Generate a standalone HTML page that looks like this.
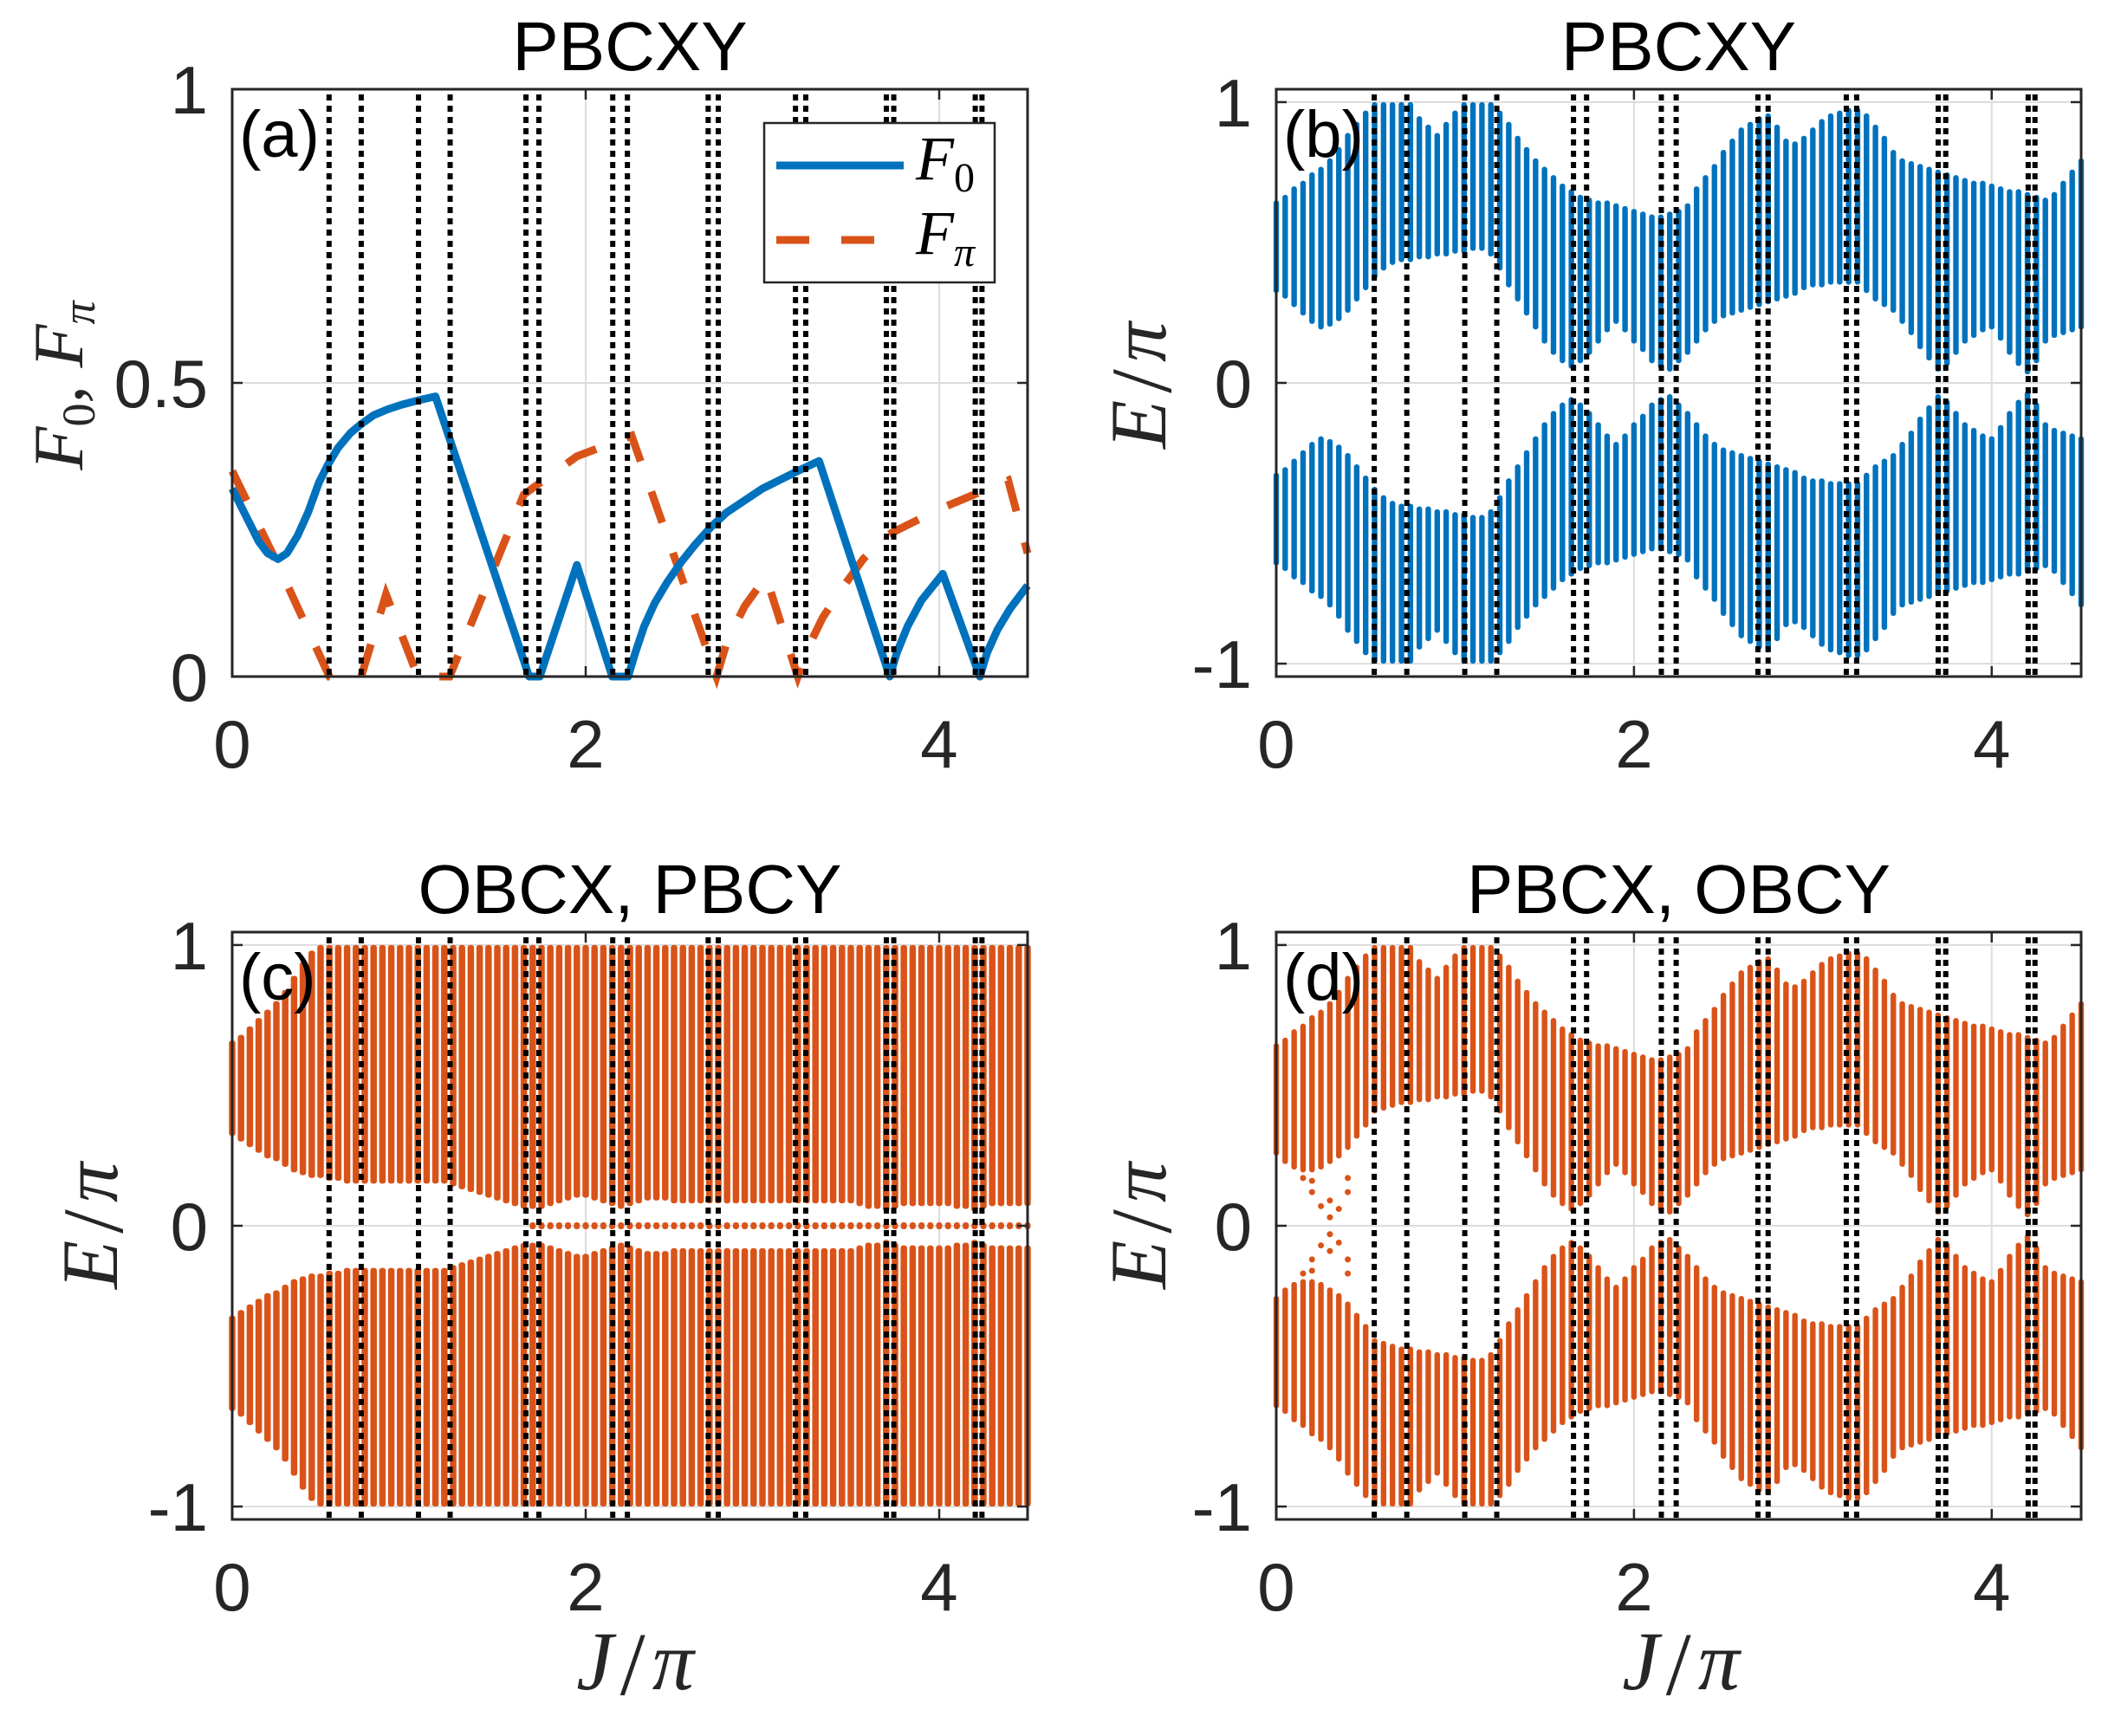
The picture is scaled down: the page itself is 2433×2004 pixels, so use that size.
<!DOCTYPE html>
<html><head><meta charset="utf-8"><style>
html,body{margin:0;padding:0;background:#fff}
svg{display:block}
</style></head><body>
<svg id="fig" xmlns="http://www.w3.org/2000/svg" width="2433" height="2004" viewBox="0 0 2433 2004">
<rect x="0" y="0" width="2433" height="2004" fill="#fff"/>
<g id="layer"></g>
</svg>
<script>
// ---------- data ----------
const xTicks = [0, 2, 4];
const xTickLabels = ["0", "2", "4"];
const yTicksA = [0, 0.5, 1];
const yTickLabelsA = ["0", "0.5", "1"];
const yTicksE = [-1, 0, 1];
const yTickLabelsE = ["-1", "0", "1"];
const transitionJ = [0.548, 0.73, 1.054, 1.233, 1.662, 1.735, 2.153, 2.236, 2.693, 2.75, 3.187, 3.245, 3.701, 3.743, 4.204, 4.242];
const f0J = [0,0.05,0.1,0.15,0.2,0.26,0.31,0.37,0.43,0.49,0.54,0.6,0.67,0.73,0.8,0.88,0.96,1.05,1.15,1.68,1.74,1.95,2.15,2.24,2.28,2.33,2.39,2.46,2.54,2.62,2.71,2.8,2.9,3.0,3.1,3.2,3.32,3.72,3.76,3.82,3.9,4.02,4.23,4.27,4.33,4.4,4.5];
const f0V = [0.32,0.29,0.26,0.23,0.21,0.20,0.21,0.24,0.28,0.33,0.36,0.39,0.415,0.43,0.445,0.455,0.463,0.47,0.477,0,0,0.19,0,0,0.04,0.085,0.125,0.16,0.195,0.225,0.255,0.28,0.30,0.32,0.335,0.35,0.367,0,0.04,0.085,0.13,0.175,0,0.04,0.08,0.115,0.155];
const fpJ = [0,0.26,0.55,0.73,0.87,1.05,1.23,1.65,1.95,2.26,2.74,2.8,2.9,3.02,3.2,3.26,3.34,3.45,3.57,3.7,4.0,4.39,4.5];
const fpV = [0.35,0.19,0,0,0.14,0,0,0.31,0.375,0.41,0,0.06,0.12,0.17,0,0.05,0.1,0.15,0.2,0.24,0.285,0.334,0.21];
const colJ = [0,0.05,0.1,0.15,0.2,0.25,0.3,0.35,0.4,0.45,0.5,0.55,0.6,0.65,0.7,0.75,0.8,0.85,0.9,0.95,1.0,1.05,1.1,1.15,1.2,1.25,1.3,1.35,1.4,1.45,1.5,1.55,1.6,1.65,1.7,1.75,1.8,1.85,1.9,1.95,2.0,2.05,2.1,2.15,2.2,2.25,2.3,2.35,2.4,2.45,2.5,2.55,2.6,2.65,2.7,2.75,2.8,2.85,2.9,2.95,3.0,3.05,3.1,3.15,3.2,3.25,3.3,3.35,3.4,3.45,3.5,3.55,3.6,3.65,3.7,3.75,3.8,3.85,3.9,3.95,4.0,4.05,4.1,4.15,4.2,4.25,4.3,4.35,4.4,4.45,4.5];
const hiB = [.65,.67,.70,.72,.75,.77,.80,.84,.89,.93, .97,1,1,1,1,1,.95,.92,.89,.93, .97,1,1,1,1,.97,.93,.88,.84,.80, .77,.74,.71,.69,.67,.66,.65,.65,.64,.63, .62,.61,.60,.60,.61,.62,.64,.70,.74,.78, .83,.87,.91,.93,.95,.96,.92,.87,.86,.88, .91,.94,.96,.97,.98,.98,.96,.92,.88,.83, .80,.79,.78,.77,.76,.75,.74,.73,.72,.72, .71,.70,.69,.69,.68,.67,.66,.68,.72,.76, .80];
const loB = [.32,.30,.27,.24,.21,.19,.20,.22,.25,.29, .33,.37,.40,.42,.43,.43,.44,.44,.45,.45, .46,.46,.47,.47,.45,.40,.34,.29,.24,.19, .14,.10,.07,.05,.07,.10,.14,.18,.21,.18, .14,.11,.07,.05,.04,.07,.10,.14,.18,.21, .23,.24,.25,.26,.27,.28,.29,.30,.31,.33, .34,.34,.35,.35,.35,.35,.32,.29,.27,.25, .21,.17,.12,.08,.04,.06,.10,.14,.16,.18, .19,.15,.10,.06,.03,.07,.14,.16,.17,.18, .19];
const hiC = [.66,.68,.71,.74,.77,.80,.84,.89,.94,.98, 1,1,1,1,1,1,1,1,1,1, 1,1,1,1,1,1,1,1,1,1, 1,1,1,1,1,1,1,1,1,1, 1,1,1,1,1,1,1,1,1,1, 1,1,1,1,1,1,1,1,1,1, 1,1,1,1,1,1,1,1,1,1, 1,1,1,1,1,1,1,1,1,1, 1,1,1,1,1,1,1,1,1,1, 1];
const loC = [.32,.30,.28,.26,.24,.23,.21,.19,.18,.17, .17,.16,.16,.15,.15,.15,.15,.15,.15,.15, .15,.15,.15,.15,.15,.14,.13,.12,.11,.10, .09,.08,.07,.06,.06,.06,.07,.08,.09,.10, .10,.09,.08,.07,.06,.07,.08,.09,.09,.09, .08,.08,.08,.08,.08,.08,.08,.08,.08,.08, .08,.08,.08,.08,.08,.08,.08,.08,.08,.08, .08,.07,.06,.06,.05,.06,.07,.07,.07,.07, .07,.07,.06,.06,.05,.06,.07,.07,.07,.07, .07];
const zeroModeJC = [1.7,1.75,1.8,1.85,1.9,1.95,2.0,2.05,2.1,2.15,2.2,2.25,2.3,2.35,2.4,2.45,2.5,2.55,2.6,2.65,2.7,2.75,2.8,2.85,2.9,2.95,3.0,3.05,3.1,3.15,3.2,3.25,3.3,3.35,3.4,3.45,3.5,3.55,3.6,3.65,3.7,3.75,3.8,3.85,3.9,3.95,4.0,4.05,4.1,4.15,4.2,4.25,4.3,4.35,4.4,4.45,4.5];
const hiD = [.65,.67,.70,.72,.75,.77,.80,.84,.89,.93, .97,1,1,1,1,1,.95,.92,.89,.93, .97,1,1,1,1,.97,.93,.88,.84,.80, .77,.74,.71,.69,.67,.66,.65,.65,.64,.63, .62,.61,.60,.60,.61,.62,.64,.70,.74,.78, .83,.87,.91,.93,.95,.96,.92,.87,.86,.88, .91,.94,.96,.97,.98,.98,.96,.92,.88,.83, .80,.79,.78,.77,.76,.75,.74,.73,.72,.72, .71,.70,.69,.69,.68,.67,.66,.68,.72,.76, .80];
const loD = [.25,.22,.20,.19,.19,.20,.22,.24,.27,.31, .35,.40,.41,.42,.43,.43,.44,.44,.45,.45, .46,.46,.47,.47,.45,.40,.34,.29,.24,.19, .14,.10,.07,.05,.07,.10,.14,.18,.21,.18, .14,.11,.07,.05,.04,.07,.10,.14,.18,.21, .23,.24,.25,.26,.27,.28,.29,.30,.31,.33, .34,.34,.35,.35,.35,.35,.32,.29,.27,.25, .21,.17,.12,.08,.04,.06,.10,.14,.16,.18, .19,.15,.10,.06,.03,.07,.14,.16,.17,.18, .19];
const edgeJD = [0.15,0.2,0.2,0.25,0.3,0.3,0.35,0.4,0.4];
const edgeED = [0.17,0.12,0.16,0.07,0.03,0.09,0.06,0.12,0.17];

// ---------- drawing ----------
const NS = "http://www.w3.org/2000/svg";
const layer = document.getElementById("layer");
const BLUE = "#0072BD", ORANGE = "#D95319";
function mk(tag, attrs, parent) {
  const e = document.createElementNS(NS, tag);
  for (const k in attrs) e.setAttribute(k, attrs[k]);
  (parent || layer).appendChild(e);
  return e;
}
function makeAxes(p) {
  p.sx = j => p.x0 + (j - 0) / 4.5 * (p.x1 - p.x0);
  p.sy = v => p.y1 - (v - p.ymin) / (p.ymax - p.ymin) * (p.y1 - p.y0);
  const g = mk("g", {});
  
  
  p.g = g;
  xTicks.forEach(t => {
    const l = mk("line", {x1: p.sx(t), x2: p.sx(t), y1: p.y0, y2: p.y1, stroke: "#dcdcdc", "stroke-width": 2}, g);
    
    
  });
  p.yt.forEach(t => {
    const l = mk("line", {x1: p.x0, x2: p.x1, y1: p.sy(t), y2: p.sy(t), stroke: "#dcdcdc", "stroke-width": 2}, g);
    
    
  });
  return g;
}
function finishAxes(p) {
  const g = p.g;
  transitionJ.forEach(j => {
    const l = mk("line", {x1: p.sx(j), x2: p.sx(j), y1: p.y0 + 6, y2: p.y1, stroke: "#000", "stroke-width": 6, "stroke-dasharray": "7 6"}, g);
    
    
  });
  xTicks.forEach((t, i) => {
    mk("line", {x1: p.sx(t), x2: p.sx(t), y1: p.y1, y2: p.y1 - 12, stroke: "#262626", "stroke-width": 2.5}, g);
    mk("line", {x1: p.sx(t), x2: p.sx(t), y1: p.y0, y2: p.y0 + 12, stroke: "#262626", "stroke-width": 2.5}, g);
    const tx = mk("text", {x: p.sx(t), y: p.y1 + 105, "text-anchor": "middle", "font-size": 78, fill: "#262626", "font-family": "Liberation Sans, sans-serif"}, g);
    tx.textContent = xTickLabels[i];
    
    
  });
  p.yt.forEach((t, i) => {
    mk("line", {x1: p.x0, x2: p.x0 + 12, y1: p.sy(t), y2: p.sy(t), stroke: "#262626", "stroke-width": 2.5}, g);
    mk("line", {x1: p.x1, x2: p.x1 - 12, y1: p.sy(t), y2: p.sy(t), stroke: "#262626", "stroke-width": 2.5}, g);
    const tx = mk("text", {x: p.x0 - 28, y: p.sy(t) + 28, "text-anchor": "end", "font-size": 78, fill: "#262626", "font-family": "Liberation Sans, sans-serif"}, g);
    tx.textContent = p.ytl[i];
    
    
  });
  const box = mk("rect", {x: p.x0, y: p.y0, width: p.x1 - p.x0, height: p.y1 - p.y0, fill: "none", stroke: "#262626", "stroke-width": 3}, g);
  
  
  const title = mk("text", {x: (p.x0 + p.x1) / 2, y: p.y0 - 22, "text-anchor": "middle", "font-size": 80, fill: "#000", "font-family": "Liberation Sans, sans-serif"}, g);
  title.textContent = p.title;
  
  
  const lab = mk("text", {x: p.x0 + 8, y: p.y0 + 78, "font-size": 76, fill: "#000", "font-family": "Liberation Sans, sans-serif"}, g);
  lab.textContent = p.letter;
  
  
}
function drawColumns(p, hi, lo, color, w) {
  colJ.forEach((j, i) => {
    [1, -1].forEach(s => {
      const a = p.sy(s * hi[i]), b = p.sy(s * lo[i]);
      const r = mk("rect", {x: p.sx(j) - w / 2, y: Math.min(a, b), width: w, height: Math.abs(b - a), fill: color, rx: 3}, p.g);
      
      
    });
  });
}
function ylabel(x, y, html, name, fs) {
  const t = mk("text", {x: x, y: y, "text-anchor": "middle", "font-size": fs, fill: "#262626", "font-family": "Liberation Serif, serif", "font-style": "italic", transform: "rotate(-90 " + x + " " + y + ")"});
  t.innerHTML = html;
  
  
}
function xlabel(x, y) {
  const t = mk("text", {x: x, y: y, "text-anchor": "middle", "font-size": 96, fill: "#262626", "font-family": "Liberation Serif, serif", "font-style": "italic"});
  t.innerHTML = 'J<tspan font-style="normal" font-size="104" dx="8" dy="6">/</tspan><tspan dx="8" dy="-6">π</tspan>';
  
  
}

const PA = {name: "panel-a", x0: 268, x1: 1186, y0: 103, y1: 781, ymin: 0, ymax: 1, yt: yTicksA, ytl: yTickLabelsA, title: "PBCXY", letter: "(a)"};
const PB = {name: "panel-b", x0: 1473, x1: 2402, y0: 103, y1: 781, ymin: -1.046, ymax: 1.046, yt: yTicksE, ytl: yTickLabelsE, title: "PBCXY", letter: "(b)"};
const PC = {name: "panel-c", x0: 268, x1: 1186, y0: 1076, y1: 1754, ymin: -1.046, ymax: 1.046, yt: yTicksE, ytl: yTickLabelsE, title: "OBCX, PBCY", letter: "(c)"};
const PD = {name: "panel-d", x0: 1473, x1: 2402, y0: 1076, y1: 1754, ymin: -1.046, ymax: 1.046, yt: yTicksE, ytl: yTickLabelsE, title: "PBCX, OBCY", letter: "(d)"};

// panel a
makeAxes(PA);
const pathFp = mk("path", {d: fpJ.map((j, i) => (i ? "L" : "M") + PA.sx(j).toFixed(1) + "," + PA.sy(fpV[i]).toFixed(1)).join(""), fill: "none", stroke: ORANGE, "stroke-width": 9, "stroke-dasharray": "38 37"}, PA.g);


const pathF0 = mk("path", {d: f0J.map((j, i) => (i ? "L" : "M") + PA.sx(j).toFixed(1) + "," + PA.sy(f0V[i]).toFixed(1)).join(""), fill: "none", stroke: BLUE, "stroke-width": 9, "stroke-linejoin": "round"}, PA.g);


finishAxes(PA);
const leg = mk("g", {});


mk("rect", {x: 882, y: 142, width: 266, height: 184, fill: "#fff", stroke: "#262626", "stroke-width": 2.5}, leg);
const l1 = mk("line", {x1: 896, x2: 1043, y1: 191, y2: 191, stroke: BLUE, "stroke-width": 9}, leg);


const l2 = mk("line", {x1: 896, x2: 1009, y1: 277, y2: 277, stroke: ORANGE, "stroke-width": 9, "stroke-dasharray": "38 37"}, leg);


const t1 = mk("text", {x: 1057, y: 207, "font-size": 72, "font-family": "Liberation Serif, serif", "font-style": "italic", fill: "#000"}, leg);
t1.innerHTML = 'F<tspan font-style="normal" font-size="48" dy="14">0</tspan>';


const t2 = mk("text", {x: 1057, y: 293, "font-size": 72, "font-family": "Liberation Serif, serif", "font-style": "italic", fill: "#000"}, leg);
t2.innerHTML = 'F<tspan font-size="48" dy="14">π</tspan>';



// panel b
makeAxes(PB);
drawColumns(PB, hiB, loB, BLUE, 6.4);
finishAxes(PB);

// panel c
makeAxes(PC);
drawColumns(PC, hiC, loC, ORANGE, 7.5);
zeroModeJC.forEach(j => {
  const r = mk("rect", {x: PC.sx(j) - 3.5, y: PC.sy(0) - 4, width: 7, height: 8, fill: ORANGE, rx: 3}, PC.g);
  
  
});
finishAxes(PC);

// panel d
makeAxes(PD);
drawColumns(PD, hiD, loD, ORANGE, 6.4);
edgeJD.forEach((j, i) => {
  [1, -1].forEach(s => {
    const c = mk("circle", {cx: PD.sx(j), cy: PD.sy(s * edgeED[i]), r: 3.5, fill: ORANGE}, PD.g);
    
    
  });
});
finishAxes(PD);

// axis titles
ylabel(95, 445, 'F<tspan font-style="normal" font-size="54" dy="14">0</tspan><tspan dy="-14">, F</tspan><tspan font-size="54" dy="14">π</tspan>', 'y-axis-title-a', 82);
ylabel(1345, 445, 'E<tspan font-style="normal" font-size="100" dx="8" dy="6">/</tspan><tspan dx="8" dy="-6">π</tspan>', 'y-axis-title-b', 92);
ylabel(135, 1415, 'E<tspan font-style="normal" font-size="100" dx="8" dy="6">/</tspan><tspan dx="8" dy="-6">π</tspan>', 'y-axis-title-c', 92);
ylabel(1345, 1415, 'E<tspan font-style="normal" font-size="100" dx="8" dy="6">/</tspan><tspan dx="8" dy="-6">π</tspan>', 'y-axis-title-d', 92);
xlabel(733, 1950);
xlabel(1940, 1950);
</script>
</body></html>
